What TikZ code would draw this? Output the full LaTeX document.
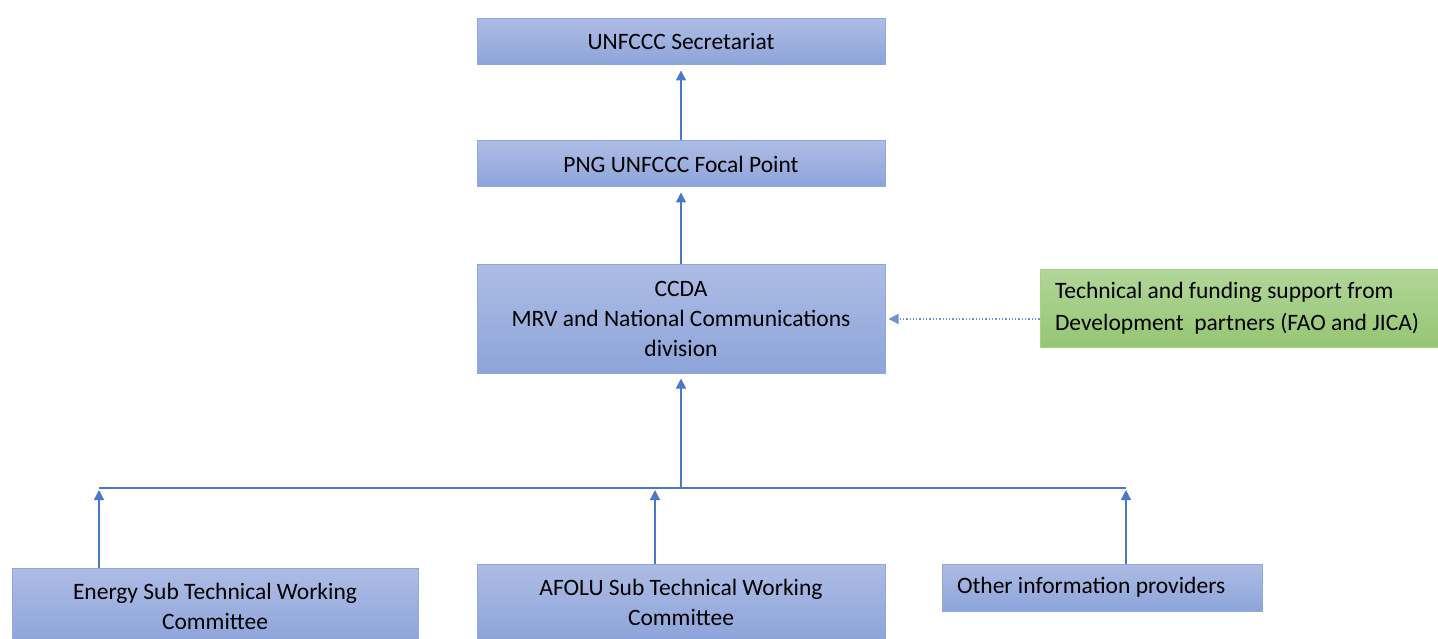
\documentclass[tikz,border=0pt]{standalone}
\usepackage{fontspec}
\setmainfont{Carlito}
\usetikzlibrary{arrows.meta}
\definecolor{boxtop}{HTML}{ADBCE4}
\definecolor{boxbot}{HTML}{8DA4DA}
\definecolor{boxline}{HTML}{8EA9E0}
\definecolor{grntop}{HTML}{B2D69A}
\definecolor{grnbot}{HTML}{95C673}
\definecolor{grnline}{HTML}{A6D18A}
\definecolor{link}{HTML}{4A78C8}
\tikzset{
  orgbox/.style={draw=boxline, line width=1pt, top color=boxtop, bottom color=boxbot,
    font=\fontsize{23.5}{30}\selectfont, align=center, inner sep=0pt},
  supbox/.style={draw=grnline, line width=1pt, top color=grntop, bottom color=grnbot,
    font=\fontsize{23.5}{32}\selectfont, align=flush left, inner sep=0pt},
  arr/.style={draw=link, line width=1.3pt, -{Triangle[width=10pt,length=10pt]}},
  busline/.style={draw=link, line width=1.6pt},
  dotarr/.style={draw=link!80, line width=1.3pt, dotted, -{Triangle[width=10pt,length=10pt]}}
}
\begin{document}
\begin{tikzpicture}[x=1pt, y=-1pt]
\useasboundingbox (0,0) rectangle (1438,639);
\fill[white] (0,0) rectangle (1438,639);

% main reporting chain
\node[orgbox, minimum width=408pt, minimum height=46pt] (sec) at (681,42) {UNFCCC Secretariat};
\node[orgbox, minimum width=408pt, minimum height=46pt] (png) at (681,164) {PNG UNFCCC Focal Point};
\node[orgbox, minimum width=408pt, minimum height=108pt] (ccda) at (681,319)
  {CCDA\\MRV and National Communications\\division};

% external support
\node[supbox, minimum width=398pt, minimum height=78pt, text width=368pt] (sup) at (1239,308)
  {Technical and funding support from\\Development\ \ partners (FAO and JICA)};

% data providers
\node[orgbox, minimum width=406pt, minimum height=76pt] (energy) at (215,606)
  {Energy Sub Technical Working\\Committee};
\node[orgbox, minimum width=408pt, minimum height=76pt] (afolu) at (681,602)
  {AFOLU Sub Technical Working\\Committee};
\node[orgbox, align=flush left, minimum width=320pt, minimum height=47pt, text width=290pt] (other) at (1102,587.5)
  {Other information providers};

% collecting bus
\coordinate (busL) at (99,488);
\coordinate (busA) at (655,488);
\coordinate (busM) at (681,488);
\coordinate (busR) at (1126,488);

\draw[arr] (png.north) -- ([yshift=-5pt]sec.south);
\draw[arr] (ccda.north) -- ([yshift=-5pt]png.south);
\draw[arr] (busM) -- ([yshift=-5pt]ccda.south);
\draw[busline] (busL) -- (busR);
\draw[arr] (energy.north -| busL) -- ([yshift=-2pt]busL);
\draw[arr] (afolu.north -| busA) -- ([yshift=-2pt]busA);
\draw[arr] (other.north -| busR) -- ([yshift=-2pt]busR);
\draw[dotarr] (sup.west |- ccda.east) -- ([xshift=3pt]ccda.east);
\end{tikzpicture}
\end{document}
